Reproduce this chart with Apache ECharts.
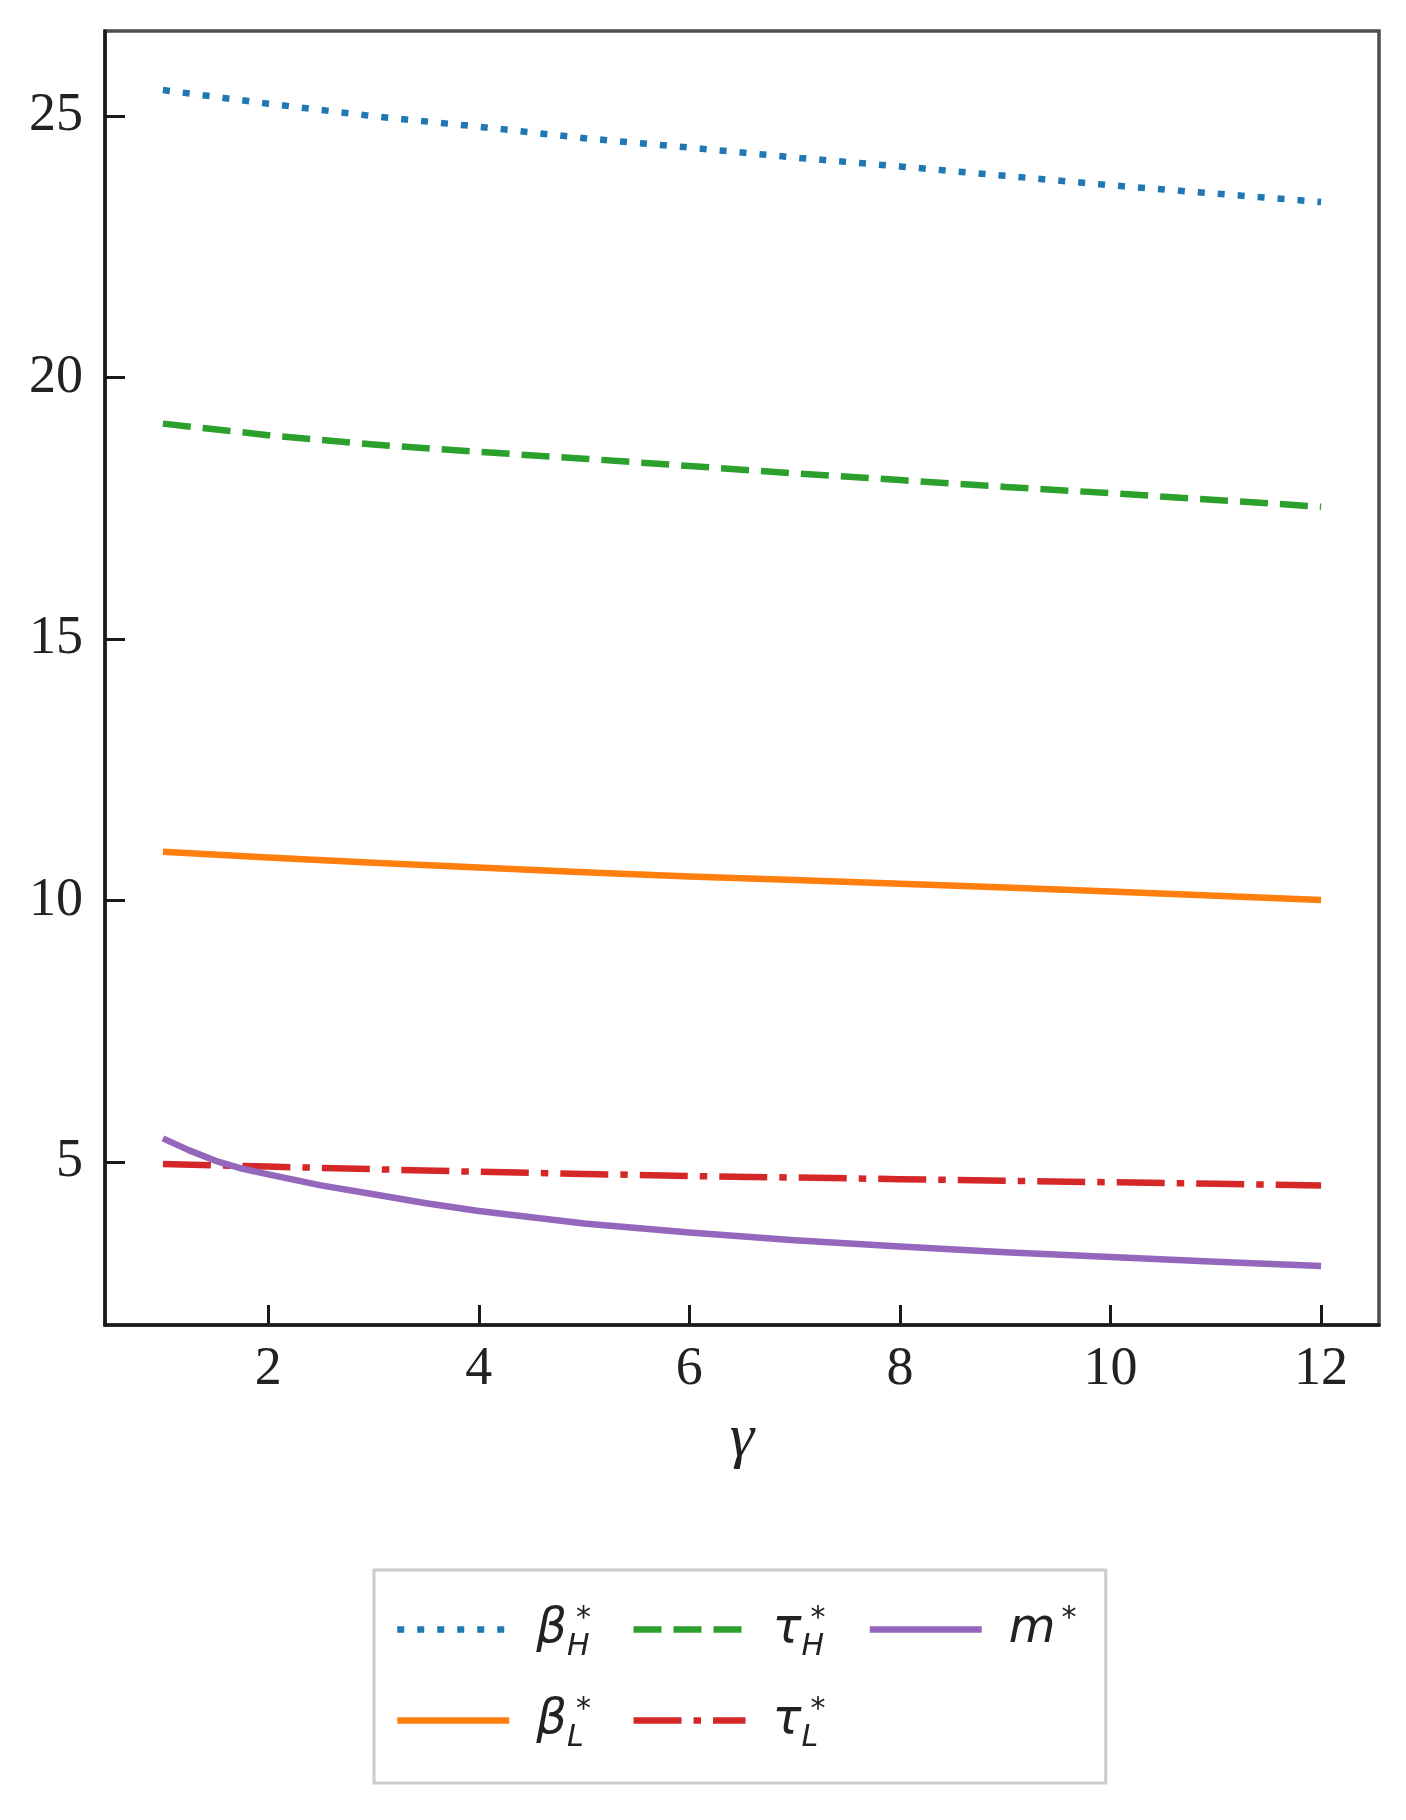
<!DOCTYPE html>
<html>
<head>
<meta charset="utf-8">
<script src="https://cdn.jsdelivr.net/npm/echarts@6/dist/echarts.min.js"></script>
<style>
  html, body { margin: 0; padding: 0; background: #fff; }
  #chart { width: 1406px; height: 1820px; }
</style>
</head>
<body>
<div id="chart"></div>
<script>
// gamma grid shared by the near-linear curves
const gamma = [1, 2, 3, 4, 5, 6, 7, 8, 9, 10, 11, 12];
const betaH = [25.50, 25.24, 25.00, 24.80, 24.58, 24.40, 24.21, 24.04, 23.86, 23.68, 23.52, 23.36];
const betaL = [10.93, 10.82, 10.72, 10.63, 10.54, 10.46, 10.39, 10.32, 10.25, 10.17, 10.09, 10.01];
const tauH = [19.12, 18.90, 18.72, 18.58, 18.45, 18.31, 18.17, 18.04, 17.91, 17.79, 17.66, 17.53];
const tauL = [4.96, 4.91, 4.86, 4.81, 4.77, 4.73, 4.70, 4.67, 4.64, 4.61, 4.58, 4.55];

// m* bends more at the start, so it gets a few extra points there
const gammaM = [1, 1.25, 1.5, 1.75, 2, 2.5, 3, 3.5, 4, 5, 6, 7, 8, 9, 10, 11, 12];
const mStar = [5.45, 5.22, 5.02, 4.87, 4.76, 4.55, 4.38, 4.21, 4.06, 3.82, 3.65, 3.50, 3.38, 3.27, 3.18, 3.09, 3.01];

const xTicks = [2, 4, 6, 8, 10, 12];
const yTicks = [5, 10, 15, 20, 25];

// legend is filled column by column (3 columns)
const legendOrder = ['betaH', 'tauH', 'mStar', 'betaL', 'tauL'];
const legendText = {
  betaH: '{g|β}{sub|H}{sup|*}',
  betaL: '{g|β}{sub|L}{sup|*}',
  tauH: '{g|τ}{sub|H}{sup|*}',
  tauL: '{g|τ}{sub|L}{sup|*}',
  mStar: '{g|m}{supm|*}',
};

const colors = {
  betaH: '#1f77b4',
  betaL: '#ff7f0e',
  tauH: '#2ca02c',
  tauL: '#d62728',
  mStar: '#9467bd',
};

function pairs(xs, ys) {
  return xs.map((x, i) => [x, ys[i]]);
}

function lineSeries(name, data, dash) {
  return {
    name: name,
    type: 'line',
    data: data,
    symbol: 'none',
    showSymbol: false,
    silent: true,
    itemStyle: { color: colors[name] },
    lineStyle: { color: colors[name], width: 6.5, type: dash, cap: 'butt', join: 'round' },
  };
}

const chart = echarts.init(document.getElementById('chart'), null, { renderer: 'canvas' });

const tickFont = { fontFamily: 'Liberation Serif', fontSize: 54, color: '#222' };
const legendFont = 'DejaVu Sans';

const option = {
  animation: false,
  backgroundColor: '#ffffff',
  grid: {
    left: 105,
    right: 27,
    top: 31,
    bottom: 495,
    show: true,
    backgroundColor: '#ffffff',
    borderColor: '#4d4d4d',
    borderWidth: 3.5,
    outerBoundsMode: 'none',
  },
  xAxis: {
    type: 'value',
    min: 0.45,
    max: 12.55,
    splitLine: { show: false },
    axisLine: { show: true, onZero: false, lineStyle: { color: '#1a1a1a', width: 3.5 } },
    axisTick: {
      show: true,
      inside: true,
      length: 20,
      customValues: xTicks,
      lineStyle: { color: '#1a1a1a', width: 3 },
    },
    axisLabel: Object.assign({ customValues: xTicks, margin: 18 }, tickFont),
    name: 'γ',
    nameLocation: 'middle',
    nameGap: 84,
    nameMoveOverlap: false,
    nameTextStyle: {
      fontFamily: 'Liberation Serif',
      fontStyle: 'italic',
      fontSize: 62,
      color: '#222',
    },
  },
  yAxis: {
    type: 'value',
    min: 1.88,
    max: 26.63,
    splitLine: { show: false },
    axisLine: { show: true, onZero: false, lineStyle: { color: '#1a1a1a', width: 3.5 } },
    axisTick: {
      show: true,
      inside: true,
      length: 20,
      customValues: yTicks,
      lineStyle: { color: '#1a1a1a', width: 3 },
    },
    axisLabel: Object.assign({ customValues: yTicks, margin: 22 }, tickFont),
  },
  legend: {
    left: 374,
    top: 1570,
    width: 760,
    orient: 'horizontal',
    selectedMode: false,
    backgroundColor: '#ffffff',
    borderColor: '#cccccc',
    borderWidth: 3,
    borderRadius: 0,
    padding: [27, 29, 30, 20],
    itemGap: 26,
    itemWidth: 112,
    itemHeight: 14,
    itemStyle: { opacity: 0 },
    lineStyle: { width: 6.5 },
    data: legendOrder,
    formatter: (name) => legendText[name],
    textStyle: {
      width: 68,
      padding: [0, 0, 0, 22],
      lineHeight: 65,
      fontFamily: legendFont,
      fontStyle: 'italic',
      fontSize: 48,
      color: '#222',
      rich: {
        g: { fontFamily: legendFont, fontStyle: 'italic', fontSize: 48, color: '#222', lineHeight: 65 },
        sub: { fontFamily: legendFont, fontStyle: 'italic', fontSize: 30, color: '#222', verticalAlign: 'bottom', width: 9, overflow: 'none' },
        sup: { fontFamily: legendFont, fontSize: 30, color: '#222', verticalAlign: 'top', padding: [7, 0, 0, 0] },
        supm: { fontFamily: legendFont, fontSize: 30, color: '#222', verticalAlign: 'top', padding: [7, 0, 0, 6] },
      },
    },
  },
  series: [
    lineSeries('betaH', pairs(gamma, betaH), [7, 13]),
    lineSeries('betaL', pairs(gamma, betaL), 'solid'),
    lineSeries('tauH', pairs(gamma, tauH), [28, 12]),
    lineSeries('tauL', pairs(gamma, tauL), [48, 12, 7.5, 12]),
    lineSeries('mStar', pairs(gammaM, mStar), 'solid'),
  ],
};

chart.setOption(option);
</script>
</body>
</html>
